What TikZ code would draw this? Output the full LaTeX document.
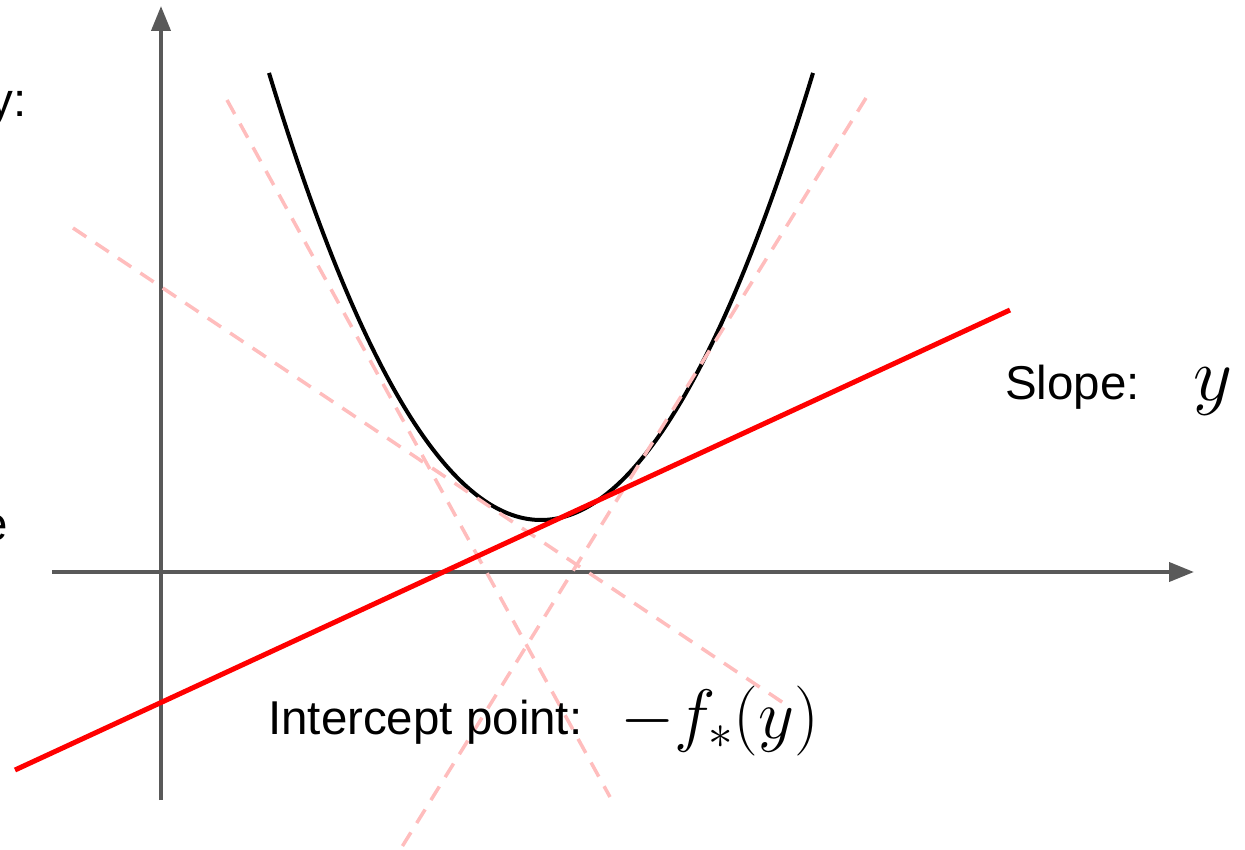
\documentclass[tikz,border=0pt]{standalone}
\usepackage{fix-cm}
\usepackage[no-math]{fontspec}
\setmainfont{Liberation Sans}
\usetikzlibrary{arrows.meta}
\definecolor{axgray}{HTML}{595959}
\definecolor{pinkd}{HTML}{FFBDBD}
\definecolor{redl}{HTML}{FF0000}
\begin{document}
\begin{tikzpicture}[x=1pt,y=-1pt,
  axis/.style={draw=axgray, line width=4pt, -{Triangle[length=25pt,width=19pt]}},
  tangdash/.style={draw=pinkd, line width=3.5pt, dash pattern=on 16pt off 11pt},
  conj/.style={draw=black, line width=4pt},
  support/.style={draw=redl, line width=5pt},
  lbl/.style={inner sep=0pt, font=\fontsize{47.5}{57}\selectfont},
  mathlbl/.style={inner sep=0pt}]
\useasboundingbox (0,0) rectangle (1245,850);
\clip (0,0) rectangle (1245,850);
% axes
\coordinate (xs) at (52,572);
\coordinate (xe) at (1194,572);
\coordinate (ys) at (161,800);
\coordinate (ye) at (161,6);
\draw[axis] (xs) -- (xe);
\draw[axis] (ys) -- (ye);
% convex function
\draw[conj] plot[domain=269:813, samples=120, smooth] (\x, {520 - 0.00605*(\x-541)*(\x-541)});
% dashed tangent lines
\coordinate (t1a) at (73,228);
\coordinate (t1b) at (785,704);
\coordinate (t2a) at (227,100);
\coordinate (t2b) at (610,797);
\coordinate (t3a) at (866,98);
\coordinate (t3b) at (400,850);
\draw[tangdash] (t1a) -- (t1b);
\draw[tangdash] (t2a) -- (t2b);
\draw[tangdash] (t3a) -- (t3b);
% supporting line
\coordinate (ra) at (15,770);
\coordinate (rb) at (1010,310);
\draw[support] (ra) -- (rb);
% labels
\node[lbl, anchor=base east] (ylab) at (27,117) {y:};
\node[lbl, anchor=base east] (elab) at (8,540) {e};
\node[lbl, anchor=base west] (slope) at (1005,399) {Slope:};
\node[mathlbl, anchor=base west, font=\fontsize{76}{90}\selectfont] (slopey) at (1193,400) {$y$};
\node[lbl, anchor=base west] (icpt) at (268,734) {Intercept point:};
\node[mathlbl, anchor=base west, font=\fontsize{70}{84}\selectfont] (icptm) at (620,738) {$-f_*(y)$};
\end{tikzpicture}
\end{document}
